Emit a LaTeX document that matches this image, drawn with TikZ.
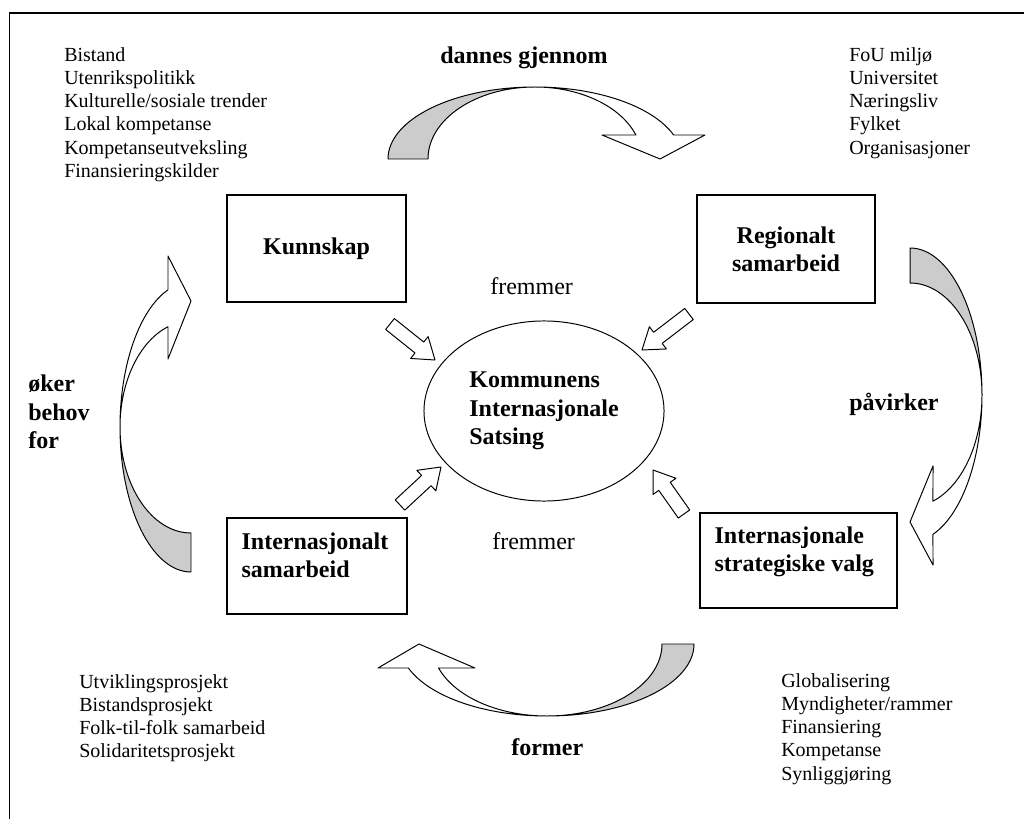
\documentclass[tikz,border=0pt]{standalone}
\usepackage{fontspec}
\setmainfont{Liberation Serif}
\usetikzlibrary{calc,positioning,shapes.geometric}
\definecolor{bandgrey}{HTML}{CCCCCC}

% small block arrow from #1 to #2
\newcommand\fatarrow[2]{%
  \draw[smallarr] let \p1=($(#2)-(#1)$), \n1={atan2(\y1,\x1)} in
    ($(#1)+(\n1+90:7)$) -- ($(#2)+(\n1+180:20)+(\n1+90:7)$)
    -- ($(#2)+(\n1+180:20)+(\n1+90:14)$) -- (#2)
    -- ($(#2)+(\n1+180:20)+(\n1-90:14)$) -- ($(#2)+(\n1+180:20)+(\n1-90:7)$)
    -- ($(#1)+(\n1-90:7)$) -- cycle;}

\begin{document}
\begin{tikzpicture}[x=0.025cm,y=0.025cm]
  \tikzset{
  frame/.style = {line width=1.4pt},
  topic/.style = {draw, rectangle, line width=0.9pt, inner sep=0pt,
    font=\bfseries\fontsize{17.07}{20.1}\selectfont, align=center},
  topictxt/.style = {inner sep=0pt, align=left,
    font=\bfseries\fontsize{17.07}{20.1}\selectfont},% text in lower boxes
  listtxt/.style = {inner sep=0pt, align=left,
    font=\fontsize{14.23}{16.47}\selectfont},
  verbtxt/.style = {inner sep=0pt, align=left,
    font=\bfseries\fontsize{17.07}{20.1}\selectfont},
  fremtxt/.style = {inner sep=0pt, font=\fontsize{17.07}{20.1}\selectfont},
  band/.style = {draw, line width=0.7pt, line join=round},
  smallarr/.style = {draw, fill=white, line width=0.7pt, line join=round}
}
\useasboundingbox (0,0) rectangle (1024,-819);
\draw[frame] (9.5,-819) |- (1024,-13);

% boxes
\node[topic, minimum width=4.475cm, minimum height=2.675cm] (kunnskap) at (316.5,-248.5) {Kunnskap};
\node[topic, minimum width=4.45cm, minimum height=2.7cm] (regional) at (786,-249) {Regionalt\\samarbeid};
\node[topic, minimum width=4.5cm, minimum height=2.4cm] (intsam) at (317,-566) {};
\node[topic, minimum width=4.925cm, minimum height=2.375cm] (strategi) at (798.5,-560.5) {};
\node[topictxt, anchor=north west] (intsam-txt) at ($(intsam.north west)+(15,-15)$) {Internasjonalt\\samarbeid};
\node[topictxt, anchor=north west] (strategi-txt) at ($(strategi.north west)+(15,-14)$) {Internasjonale\\strategiske valg};

% centre
\node[draw, ellipse, line width=0.7pt, minimum width=6cm, minimum height=4.5cm,
  align=left, font=\bfseries\fontsize{17.07}{20.1}\selectfont] (satsing) at (544,-411)
  {Kommunens\\Internasjonale\\Satsing};

% lists
\node[listtxt, anchor=north west] (kunn-list) at (64,-47.3)
  {Bistand\\Utenrikspolitikk\\Kulturelle/sosiale trender\\Lokal kompetanse\\Kompetanseutveksling\\Finansieringskilder};
\node[listtxt, anchor=north west] (reg-list) at (849,-47.3)
  {FoU miljø\\Universitet\\Næringsliv\\Fylket\\Organisasjoner};
\node[listtxt, anchor=north west] (int-list) at (79,-674.3)
  {Utviklingsprosjekt\\Bistandsprosjekt\\Folk-til-folk samarbeid\\Solidaritetsprosjekt};
\node[listtxt, anchor=north west] (strat-list) at (781,-673.3)
  {Globalisering\\Myndigheter/rammer\\Finansiering\\Kompetanse\\Synliggjøring};

% verbs
\node[verbtxt, anchor=base west] (dannes) at (440,-64) {dannes gjennom};
\node[verbtxt, anchor=base west] (pavirker) at (849,-410) {påvirker};
\node[verbtxt, anchor=north west] (oker) at (28,-375) {øker\\behov\\for};
\node[verbtxt, anchor=base west] (former) at (511,-755) {former};
\node[fremtxt, anchor=base west] (frem-top) at (490,-295) {fremmer};
\node[fremtxt, anchor=base west] (frem-bot) at (492,-549) {fremmer};

% curved arrows
\coordinate (topc) at (535,-159);
\coordinate (rc) at (910,-395);
\coordinate (lc) at (191,-427);
\coordinate (bc) at (547,-644);
\filldraw[band, fill=bandgrey] ($(topc)+(180:147 and 72)$)
  arc[start angle=180, end angle=90, x radius=147, y radius=72]
  arc[start angle=90, end angle=180, x radius=107, y radius=72] -- cycle;
\filldraw[band, fill=white] ($(topc)+(90:147 and 72)$)
  arc[start angle=90, end angle=19.47, x radius=147, y radius=72]
  -- (705,-135) -- (660,-159) -- (602,-135) -- ($(topc)+(19.47:107 and 72)$)
  arc[start angle=19.47, end angle=90, x radius=107, y radius=72] -- cycle;
\filldraw[band, fill=bandgrey] ($(rc)+(90:72 and 147)$)
  arc[start angle=90, end angle=0, x radius=72, y radius=147]
  arc[start angle=0, end angle=90, x radius=72, y radius=112] -- cycle;
\filldraw[band, fill=white] ($(rc)+(0:72 and 147)$)
  arc[start angle=0, end angle=-71.4, x radius=72, y radius=147]
  -- (933,-565) -- (910,-522) -- (933,-466) -- ($(rc)+(-71.4:72 and 112)$)
  arc[start angle=-71.4, end angle=0, x radius=72, y radius=112] -- cycle;
\filldraw[band, fill=bandgrey] ($(lc)+(270:71 and 145)$)
  arc[start angle=270, end angle=180, x radius=71, y radius=145]
  arc[start angle=180, end angle=270, x radius=71, y radius=106] -- cycle;
\filldraw[band, fill=white] ($(lc)+(180:71 and 145)$)
  arc[start angle=180, end angle=108.9, x radius=71, y radius=145]
  -- (168,-256) -- (191,-301) -- (168,-359) -- ($(lc)+(108.9:71 and 106)$)
  arc[start angle=108.9, end angle=180, x radius=71, y radius=106] -- cycle;
\filldraw[band, fill=bandgrey] ($(bc)+(0:147 and 72)$)
  arc[start angle=360, end angle=270, x radius=147, y radius=72]
  arc[start angle=270, end angle=360, x radius=115, y radius=72] -- cycle;
\filldraw[band, fill=white] ($(bc)+(270:147 and 72)$)
  arc[start angle=270, end angle=199.47, x radius=147, y radius=72]
  -- (378,-668) -- (419,-644) -- (475,-668) -- ($(bc)+(199.47:115 and 72)$)
  arc[start angle=199.47, end angle=270, x radius=115, y radius=72] -- cycle;

% small arrows into the centre
\coordinate (ul-s) at (390,-324); \coordinate (ul-e) at (435,-360);
\coordinate (ur-s) at (689,-314); \coordinate (ur-e) at (642,-350);
\coordinate (ll-s) at (400,-505); \coordinate (ll-e) at (441,-467);
\coordinate (lr-s) at (684,-514); \coordinate (lr-e) at (653,-470);
\fatarrow{ul-s}{ul-e}
\fatarrow{ur-s}{ur-e}
\fatarrow{ll-s}{ll-e}
\fatarrow{lr-s}{lr-e}
\end{tikzpicture}
\end{document}
